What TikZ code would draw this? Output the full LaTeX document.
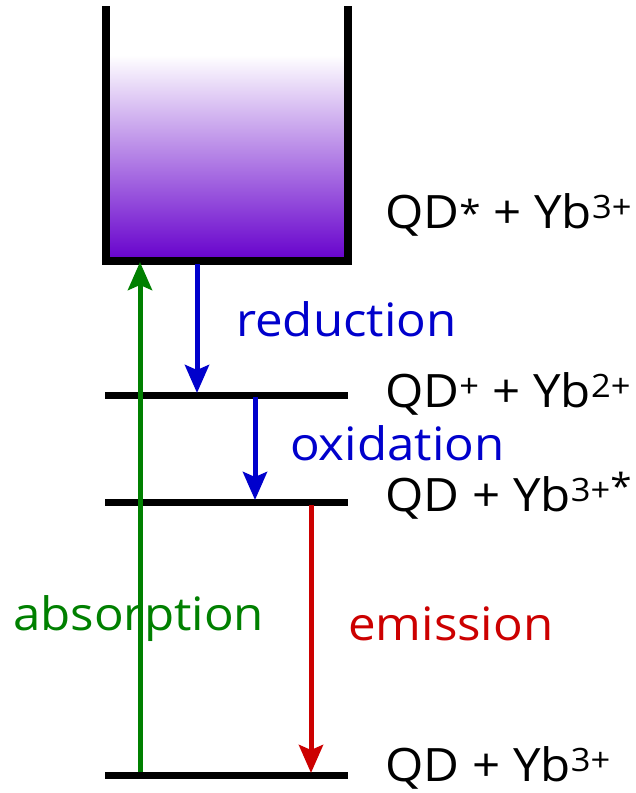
\documentclass[tikz,border=0pt]{standalone}
\usepackage{fontspec}
\setmainfont{Open Sans}[FakeStretch=1.07]
\usetikzlibrary{arrows.meta}
\definecolor{cgreen}{RGB}{0,128,0}
\definecolor{cblue}{RGB}{0,0,204}
\definecolor{cred}{RGB}{204,0,0}
\definecolor{cpurple}{RGB}{102,0,204}
\newcommand{\astk}{{\fontsize{36}{40}\selectfont\raisebox{2pt}{*}}}
\tikzset{
  level/.style={line width=7pt,black},
  wall/.style={line width=8pt,black,line cap=rect},
  arr/.style={line width=5pt,-{Stealth[length=28pt,width=24pt,inset=5pt]}},
  lbl/.style={font=\fontsize{46}{52}\selectfont,anchor=base west,inner sep=0pt},
}
\begin{document}
\begin{tikzpicture}[x=1pt,y=-1pt]
\useasboundingbox (0,0) rectangle (635,793);
% beaker fill
\shade[top color=white,bottom color=cpurple] (106,55) rectangle (348,261);
\draw[wall] (106,10) -- (106,261) -- (348,261) -- (348,10);
% levels
\draw[level] (105,395) coordinate (L2a) -- (348,395) coordinate (L2b);
\draw[level] (105,502) coordinate (L3a) -- (348,502) coordinate (L3b);
\draw[level] (105,775) coordinate (L4a) -- (348,775) coordinate (L4b);
% labels
\node[lbl] (s1) at (385,228) {QD\astk{} + Yb\textsuperscript{3+}};
\node[lbl] (s2) at (385,407) {QD\textsuperscript{+} + Yb\textsuperscript{2+}};
\node[lbl] (s3) at (385,511) {QD + Yb\textsuperscript{3+\astk}};
\node[lbl] (s4) at (385,781) {QD + Yb\textsuperscript{3+}};
% arrow endpoints
\coordinate (gA) at (140,772);
\coordinate (gB) at (140,262);
\coordinate (b1A) at (197,264);
\coordinate (b1B) at (197,393);
\coordinate (b2A) at (255,397);
\coordinate (b2B) at (255,500);
\coordinate (rA) at (311,505);
\coordinate (rB) at (311,773);
\draw[arr,cgreen] (gA) -- (gB);
\draw[arr,cblue] (b1A) -- (b1B);
\draw[arr,cblue] (b2A) -- (b2B);
\draw[arr,cred] (rA) -- (rB);
% process labels
\node[lbl,text=cblue] (red) at (236,336) {reduction};
\node[lbl,text=cblue] (ox) at (290,460) {oxidation};
\node[lbl,text=cgreen] (ab) at (13,630) {absorption};
\node[lbl,text=cred] (em) at (348,640) {emission};
\end{tikzpicture}
\end{document}
